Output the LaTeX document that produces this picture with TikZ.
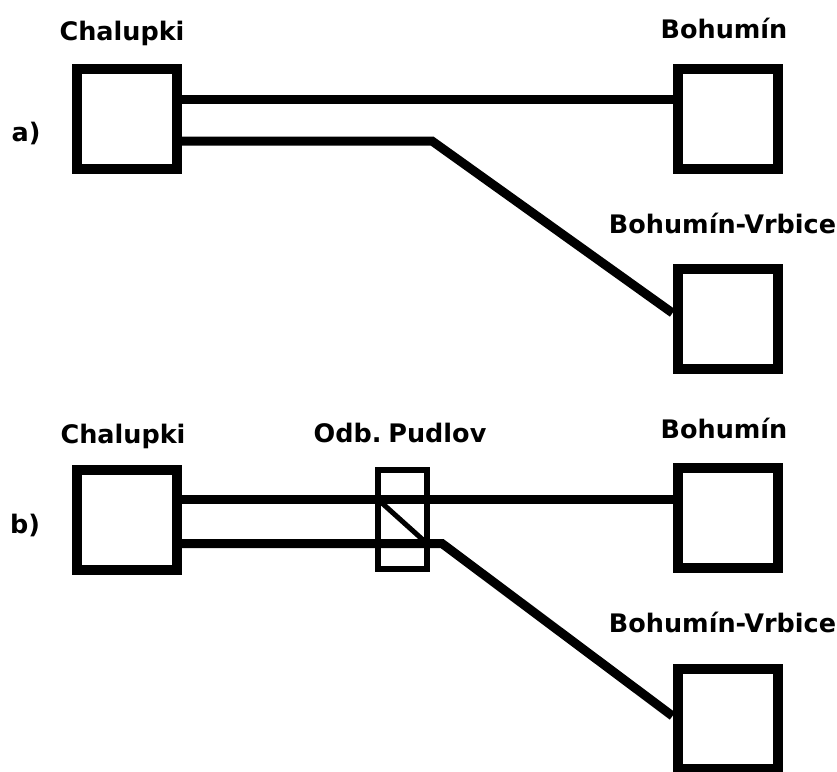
\documentclass[tikz,border=0pt]{standalone}
\usepackage{fontspec}
\setmainfont{DejaVu Sans}
\begin{document}
\begin{tikzpicture}[x=1pt,y=-1pt,
  station/.style={draw=black, line width=10pt, minimum width=100pt, minimum height=100pt, inner sep=0pt},
  junction/.style={draw=black, line width=5.5pt, minimum width=49pt, minimum height=99pt, inner sep=0pt, outer sep=0pt},
  track/.style={draw=black, line width=9pt},
  crossline/.style={draw=black, line width=5pt},
  lbl/.style={font=\bfseries\fontsize{25.5}{30}\selectfont, anchor=base, inner sep=0pt},
]
\fill[white] (0,0) rectangle (837,771);
\useasboundingbox (0,0) rectangle (837,771);

% ---- a) ----
\node[lbl] (tA)  at (26,141)  {a)};
\node[lbl] (tA1) at (122,40)  {Chalupki};
\node[lbl] (tA2) at (724,38)  {Bohumín};
\node[lbl] (tA3) at (722.5,233) {Bohumín-Vrbice};

\node[station] (chaA) at (127,119) {};
\node[station] (bohA) at (727.5,119) {};
\node[station] (vrbA) at (727.5,319) {};

\coordinate (a1) at ([yshift=20pt]chaA.east);
\coordinate (a2) at ([yshift=-22pt]chaA.east);
\coordinate (bendA) at (432,141);
\draw[track] (a1) -- (a1 -| bohA.west);
\draw[track] (a2) -- (bendA) -- ([yshift=6pt]vrbA.west);

% ---- b) ----
\node[lbl] (tB)  at (25,533)  {b)};
\node[lbl] (tB1) at (123,443) {Chalupki};
\node[lbl] (tB2) at (400,442) {Odb.\kern-2pt\ Pudlov};
\node[lbl] (tB3) at (724,438) {Bohumín};
\node[lbl] (tB4) at (722.5,632) {Bohumín-Vrbice};

\node[station] (chaB) at (127,520) {};
\node[station] (bohB) at (727.5,518) {};
\node[station] (vrbB) at (727.5,719) {};
\node[junction] (pud) at (402.5,519.5) {};

\coordinate (b1) at ([yshift=20.5pt]chaB.east);
\coordinate (b2) at ([yshift=-23.5pt]chaB.east);
\coordinate (bendB) at (442,543.5);
\draw[track] (b1) -- (b1 -| bohB.west);
\draw[track] (b2) -- (bendB) -- ([yshift=3pt]vrbB.west);
\draw[crossline] (b1 -| pud.west) -- (b2 -| pud.east);
\end{tikzpicture}
\end{document}
